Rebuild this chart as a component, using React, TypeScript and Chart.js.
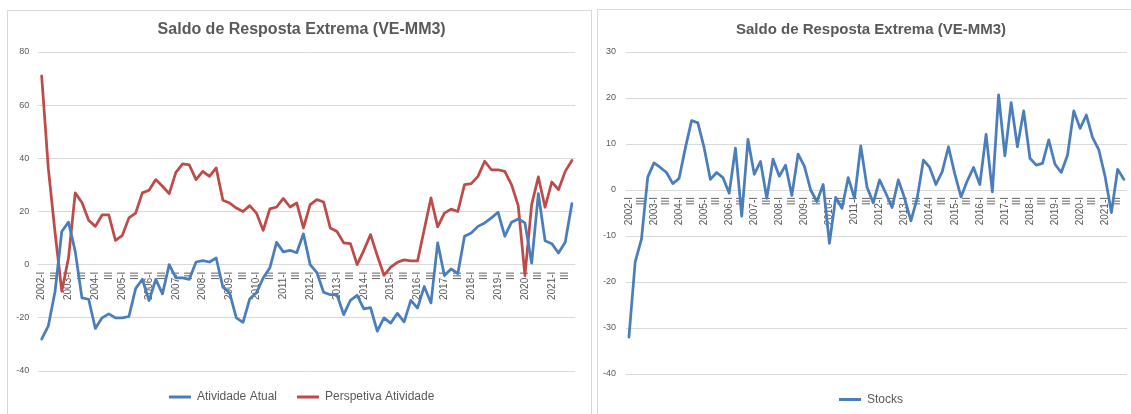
import React, { useEffect, useRef } from 'react';
import { Chart, registerables } from 'chart.js';

Chart.register(...registerables);

const FONT = '"Liberation Sans", Arial, sans-serif';
const TEXT_COLOR = '#595959';
const GRID_COLOR = '#d9d9d9';

const years = [2002, 2003, 2004, 2005, 2006, 2007, 2008, 2009, 2010, 2011, 2012, 2013, 2014, 2015, 2016, 2017, 2018, 2019, 2020, 2021];
const quarterNames = ['I', 'II', 'III', 'IV'];
const categories: string[] = years.flatMap((y) => quarterNames.map((q, k) => (k === 0 ? `${y}-I` : q)));

const titleText = 'Saldo de Resposta Extrema (VE-MM3)';

const atividadeAtual = [
  -28, -23, -10, 12.5, 16, 5, -12.5, -13, -24, -20, -18.5, -20, -20, -19.5, -9, -5.5, -13.5, -5.5, -11, 0,
  -5, -5, -5.5, 1, 1.5, 1, 2.5, -8.5, -10.6, -20, -21.7, -12.9, -10.6, -5, -1.2, 8.4, 4.8, 5.4, 4.5, 11.6,
  0, -3, -10.4, -11.3, -11.3, -18.8, -13.4, -11.5, -16.6, -16.2, -25, -20, -22, -18.3, -21.5, -13.4, -16.3, -8.2, -14.4, 8.2,
  -4.1, -1.6, -3.4, 10.7, 11.9, 14.4, 15.7, 17.6, 19.7, 10.7, 16, 17.2, 15.7, 0.6, 26.7, 9, 7.9, 4.4, 8.4, 23,
];

const perspetivaAtividade = [
  71, 36, 12, -10, 2.5, 27, 23.4, 16.7, 14.4, 18.7, 18.7, 9.1, 10.9, 17.6, 19.4, 27, 28, 32, 29.5, 26.7,
  34.7, 37.9, 37.5, 32, 35.1, 33.2, 36.4, 24.2, 23.2, 21.3, 20, 22.2, 19.4, 12.9, 21, 21.7, 24.9, 21.7, 23.2, 13.8,
  22.6, 24.5, 23.6, 13.8, 12.5, 8.2, 7.9, 0, 5.4, 11.3, 3.4, -4, -0.9, 0.9, 1.8, 1.4, 1.4, 13.2, 25.1, 14.2,
  19.4, 20.9, 20, 30.1, 30.5, 33.2, 38.9, 35.7, 35.7, 35.1, 30.1, 22.2, -4, 22.6, 33, 21.6, 31.1, 28.2, 35.1, 39.2,
];

const stocks = [
  -32, -15.6, -10.7, 2.8, 5.9, 4.9, 3.8, 1.4, 2.5, 9.1, 15.1, 14.6, 9.2, 2.3, 3.8, 2.7, -0.7, 9.1, -5.7, 11,
  3.4, 6.2, -1.8, 6.7, 3, 5.4, -1.2, 7.8, 5.2, 0, -2.5, 1.2, -11.6, -1.6, -4, 2.7, -1.8, 9.6, 0.6, -2.8,
  2.2, -0.7, -3.8, 2.2, -1.8, -6.7, -1.8, 6.5, 4.9, 1.2, 4, 9.4, 3.5, -1.5, 2, 4.9, 1.2, 12.1, -0.4, 20.7,
  7.4, 19, 9.4, 17.2, 6.9, 5.4, 5.8, 10.9, 5.6, 3.8, 7.6, 17.2, 13.4, 16.3, 11.4, 8.7, 2.9, -4.9, 4.5, 2.3,
];

const BLUE = '#4a7ebb';
const RED = '#be4b48';

type Series = { label: string; data: number[]; color: string };

type Props = {
  series: Series[];
  width: number;
  height: number;
  titleSize: number;
  titlePadTop: number;
  titlePadBottom: number;
  yMin: number;
  yMax: number;
  yStep: number;
  padLeft: number;
  padRight: number;
  padBottom: number;
  yWidth: number;
  rightGap: number;
  yTickPadding: number;
  legendPadding: number;
  style: React.CSSProperties;
};

function LineChart(p: Props) {
  const ref = useRef<HTMLCanvasElement | null>(null);
  useEffect(() => {
    if (!ref.current) return;
    const chart = new Chart(ref.current, {
      type: 'line',
      data: {
        labels: categories,
        datasets: p.series.map((s) => ({
          label: s.label,
          data: s.data,
          borderColor: s.color,
          backgroundColor: s.color,
          borderWidth: 2.75,
          pointRadius: 0,
          pointHoverRadius: 0,
          tension: 0,
          borderJoinStyle: 'round' as const,
          borderCapStyle: 'round' as const,
          yAxisID: 'y',
        })),
      },
      options: {
        animation: false,
        responsive: false,
        maintainAspectRatio: false,
        events: [],
        layout: { padding: { left: p.padLeft, right: p.padRight, top: 0, bottom: p.padBottom } },
        plugins: {
          title: {
            display: true,
            text: titleText,
            color: TEXT_COLOR,
            font: { family: FONT, size: p.titleSize, weight: 'bold' },
            padding: { top: p.titlePadTop, bottom: p.titlePadBottom },
          },
          legend: {
            position: 'bottom',
            labels: {
              boxWidth: 22,
              boxHeight: 3,
              padding: p.legendPadding,
              color: TEXT_COLOR,
              font: { family: FONT, size: 12 },
              generateLabels: (c: any) =>
                c.data.datasets.map((ds: any, i: number) => ({
                  text: ds.label,
                  fillStyle: ds.borderColor,
                  strokeStyle: ds.borderColor,
                  lineWidth: 0,
                  hidden: false,
                  datasetIndex: i,
                  fontColor: TEXT_COLOR,
                })),
            },
          },
          tooltip: { enabled: false },
        },
        scales: {
          x: {
            type: 'category',
            position: { y: 0 } as any,
            offset: true,
            grid: { display: false, drawTicks: false },
            border: { display: false },
            ticks: {
              autoSkip: false,
              maxRotation: 90,
              minRotation: 90,
              padding: 7,
              color: TEXT_COLOR,
              font: { family: FONT, size: 10 },
              callback: (_v: any, i: number) => (i % 2 === 0 ? categories[i] : ''),
            },
          },
          y: {
            position: 'left',
            min: p.yMin,
            max: p.yMax,
            grid: { color: GRID_COLOR, lineWidth: 1, drawTicks: false },
            border: { display: false },
            ticks: {
              stepSize: p.yStep,
              padding: p.yTickPadding,
              color: TEXT_COLOR,
              font: { family: FONT, size: 9 },
            },
            afterFit: (s: any) => {
              s.width = p.yWidth;
            },
          },
          gap: {
            position: 'right',
            display: true,
            min: 0,
            max: 1,
            grid: { display: false, drawTicks: false },
            border: { display: false },
            ticks: { display: false },
            afterFit: (s: any) => {
              s.width = p.rightGap;
            },
          },
        },
      },
    } as any);
    return () => chart.destroy();
  }, []);
  return <canvas ref={ref} width={p.width} height={p.height} style={{ position: 'absolute', display: 'block', width: p.width, height: p.height, ...p.style }} />;
}

export default function App() {
  return (
    <div style={{ position: 'absolute', left: 0, top: 0, width: 1131, height: 414, overflow: 'hidden', background: '#fff' }}>
      <div style={{ position: 'absolute', left: 7, top: 10, width: 585, height: 420, border: `1px solid ${GRID_COLOR}`, boxSizing: 'border-box' }} />
      <div style={{ position: 'absolute', left: 597, top: 9, width: 560, height: 420, border: `1px solid ${GRID_COLOR}`, boxSizing: 'border-box' }} />
      <LineChart
        series={[
          { label: 'Atividade Atual', data: atividadeAtual, color: BLUE },
          { label: 'Perspetiva Atividade', data: perspetivaAtividade, color: RED },
        ]}
        width={584}
        height={404}
        titleSize={16}
        titlePadTop={10.4}
        titlePadBottom={12.4}
        yMin={-40}
        yMax={80}
        yStep={20}
        padLeft={8}
        padRight={2.7}
        padBottom={1}
        yWidth={23.3}
        rightGap={10}
        yTickPadding={9}
        legendPadding={20}
        style={{ left: 7, top: 10 }}
      />
      <LineChart
        series={[{ label: 'Stocks', data: stocks, color: BLUE }]}
        width={546}
        height={406}
        titleSize={15}
        titlePadTop={11}
        titlePadBottom={13}
        yMin={-40}
        yMax={30}
        yStep={10}
        padLeft={5}
        padRight={3}
        padBottom={0.5}
        yWidth={23.8}
        rightGap={8.5}
        yTickPadding={9.8}
        legendPadding={19.5}
        style={{ left: 597, top: 10 }}
      />
    </div>
  );
}
